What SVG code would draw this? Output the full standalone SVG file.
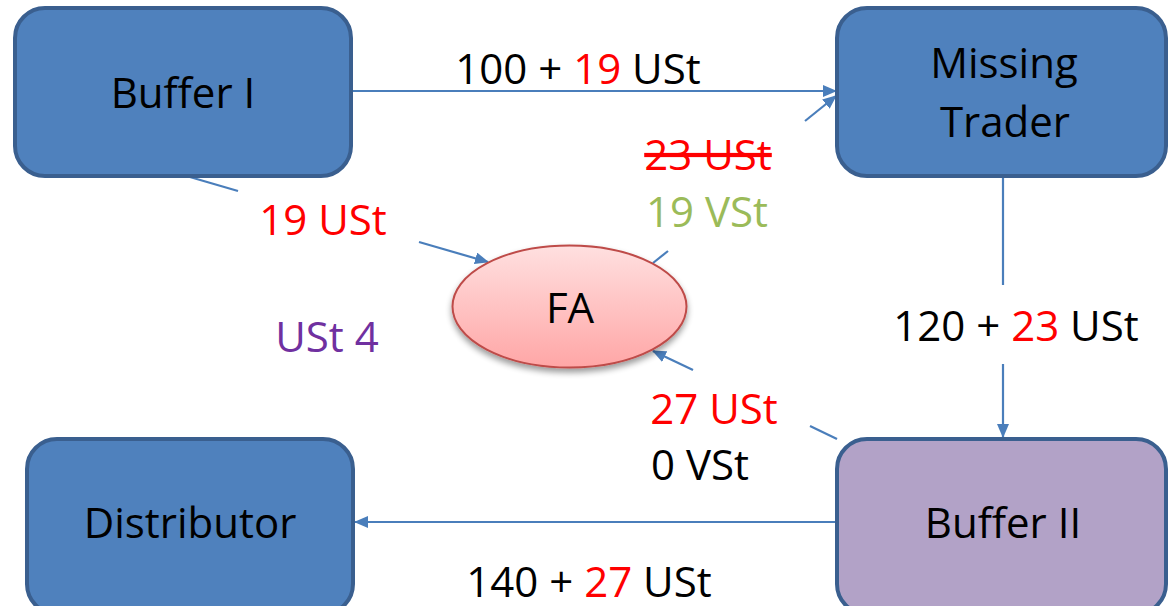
<svg xmlns="http://www.w3.org/2000/svg" width="1169" height="606" viewBox="0 0 1169 606">
<style>
text{font-family:"Open Sans","Noto Sans","Liberation Sans",sans-serif;font-size:42px;fill:#000}
.node{fill:#4F81BD;stroke:#3A5F8F;stroke-width:4}
.purple{fill:#B2A2C7}
.conn{stroke:#4A7EBB;stroke-width:2.2;fill:none}
.red{fill:#FF0000}
.green{fill:#9BBB59}
.violet{fill:#7030A0}
.mid{text-anchor:middle}
</style>
<defs>
<marker id="arr" viewBox="0 0 14 12" refX="13" refY="6" markerWidth="14" markerHeight="12" markerUnits="userSpaceOnUse" orient="auto">
<path d="M0,0 L14,6 L0,12 Z" fill="#4A7EBB"/>
</marker>
<linearGradient id="faGrad" x1="0" y1="0" x2="0" y2="1">
<stop offset="0" stop-color="#FFE0E0"/>
<stop offset="1" stop-color="#FFA6A6"/>
</linearGradient>
<filter id="shadow" x="-20%" y="-20%" width="140%" height="150%">
<feGaussianBlur in="SourceAlpha" stdDeviation="3"/>
<feOffset dx="0" dy="4" result="b"/>
<feComponentTransfer><feFuncA type="linear" slope="0.4"/></feComponentTransfer>
<feMerge><feMergeNode/><feMergeNode in="SourceGraphic"/></feMerge>
</filter>
</defs>
<rect width="1169" height="606" fill="#fff"/>

<g id="connectors">
<line class="conn" x1="352" y1="91" x2="836" y2="91" marker-end="url(#arr)"/>
<line class="conn" x1="653" y1="263" x2="668" y2="251"/>
<line class="conn" x1="805" y1="121" x2="836" y2="96" marker-end="url(#arr)"/>
<line class="conn" x1="183" y1="175" x2="238" y2="191"/>
<line class="conn" x1="419" y1="242" x2="488" y2="262" marker-end="url(#arr)"/>
<line class="conn" x1="1003" y1="177" x2="1003" y2="285"/>
<line class="conn" x1="1003" y1="364" x2="1003" y2="437" marker-end="url(#arr)"/>
<line class="conn" x1="837" y1="439" x2="810" y2="426"/>
<line class="conn" x1="693" y1="370" x2="653" y2="351" marker-end="url(#arr)"/>
<line class="conn" x1="837" y1="522" x2="355" y2="522" marker-end="url(#arr)"/>
</g>

<g id="buffer1">
<rect class="node" x="15" y="8" width="336" height="168" rx="30"/>
<text class="mid" x="183" y="108">Buffer I</text>
</g>
<g id="missing-trader">
<rect class="node" x="837" y="8" width="329" height="168" rx="30"/>
<text class="mid" x="1004" y="78">Missing</text>
<text class="mid" x="1005" y="137">Trader</text>
</g>
<g id="distributor">
<rect class="node" x="27" y="439" width="326" height="175" rx="30"/>
<text class="mid" x="190" y="538">Distributor</text>
</g>
<g id="buffer2">
<rect class="node purple" x="837" y="439" width="329" height="175" rx="30"/>
<text class="mid" x="1003" y="538">Buffer II</text>
</g>
<g id="fa">
<ellipse cx="569.5" cy="306.5" rx="117" ry="61" fill="url(#faGrad)" stroke="#BE4B48" stroke-width="2" filter="url(#shadow)"/>
<text class="mid" x="570" y="323">FA</text>
</g>

<g id="labels">
<text class="mid" x="578" y="84">100 + <tspan class="red">19</tspan> USt</text>
<text class="mid red" x="708" y="170" text-decoration="line-through">23 USt</text>
<text class="mid green" x="707" y="227">19 VSt</text>
<text class="mid red" x="323" y="235">19 USt</text>
<text class="mid violet" x="327" y="352">USt 4</text>
<text class="mid" x="1016" y="341">120 + <tspan class="red">23</tspan> USt</text>
<text class="mid red" x="714" y="424">27 USt</text>
<text x="651" y="480">0 VSt</text>
<text class="mid" x="589" y="597">140 + <tspan class="red">27</tspan> USt</text>
</g>
</svg>
